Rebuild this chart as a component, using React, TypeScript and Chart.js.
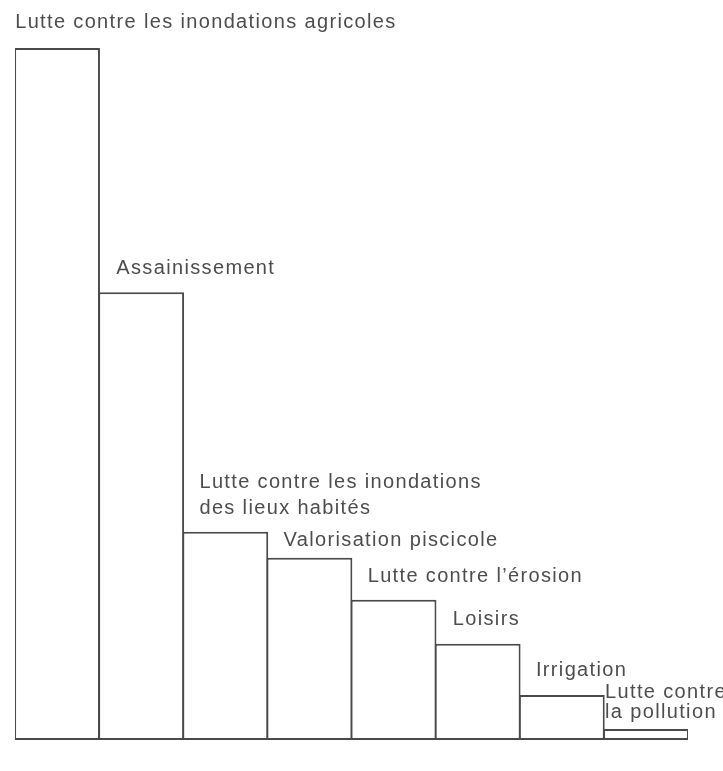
import React, { useEffect, useRef } from "react";
import { Chart, registerables } from "chart.js";

Chart.register(...registerables);

const categories: string[][] = [
  ["Lutte contre les inondations agricoles"],
  ["Assainissement"],
  ["Lutte contre les inondations", "des lieux habités"],
  ["Valorisation piscicole"],
  ["Lutte contre l’érosion"],
  ["Loisirs"],
  ["Irrigation"],
  ["Lutte contre", "la pollution"],
];
const values: number[] = [691, 447, 208, 182, 140, 96, 45, 11];

// label placement (style): x offset from bar left, gap from bar top to last line centre, line height
const labelDx = [1, 18, 17, 17, 17, 18, 17, 2];
const labelGap = [26, 24, 23, 17, 23, 24, 24, 16];
const labelLineH = [26, 26, 26, 26, 26, 26, 26, 20];

const labelPlugin = {
  id: "barLabels",
  afterDatasetsDraw(chart: any) {
    const ctx = chart.ctx;
    const meta = chart.getDatasetMeta(0);
    ctx.save();
    ctx.font = "20px 'Liberation Sans', Arial, sans-serif";
    (ctx as any).letterSpacing = "1.35px";
    ctx.fillStyle = "#4d4d4d";
    ctx.textAlign = "left";
    ctx.textBaseline = "middle";
    meta.data.forEach((bar: any, i: number) => {
      const left = bar.x - bar.width / 2;
      const lines = categories[i];
      const lastY = bar.y - labelGap[i];
      lines.forEach((line, j) => {
        const y = lastY - (lines.length - 1 - j) * labelLineH[i];
        ctx.fillText(line, left + labelDx[i], y);
      });
    });
    ctx.restore();
  },
};

export default function App() {
  const ref = useRef<HTMLCanvasElement | null>(null);
  useEffect(() => {
    if (!ref.current) return;
    const chart = new Chart(ref.current, {
      type: "bar",
      data: {
        labels: categories.map((c) => c.join(" ")),
        datasets: [
          {
            data: values,
            backgroundColor: "#ffffff",
            borderColor: "#4a4a4a",
            borderWidth: 2,
            borderSkipped: false,
            categoryPercentage: 1,
            barPercentage: 1.02,
          },
        ],
      },
      options: {
        animation: false,
        responsive: false,
        maintainAspectRatio: false,
        layout: { padding: { left: 15, right: 35, top: 39, bottom: 31 } },
        plugins: { legend: { display: false }, tooltip: { enabled: false } },
        scales: {
          x: { display: false },
          y: { display: false, min: 0, max: 700 },
        },
      },
      plugins: [labelPlugin],
    });
    return () => chart.destroy();
  }, []);
  return (
    <div style={{ position: "fixed", left: 0, top: 0, width: 723, height: 771, background: "#fff" }}>
      <canvas ref={ref} width={723} height={771} />
    </div>
  );
}
